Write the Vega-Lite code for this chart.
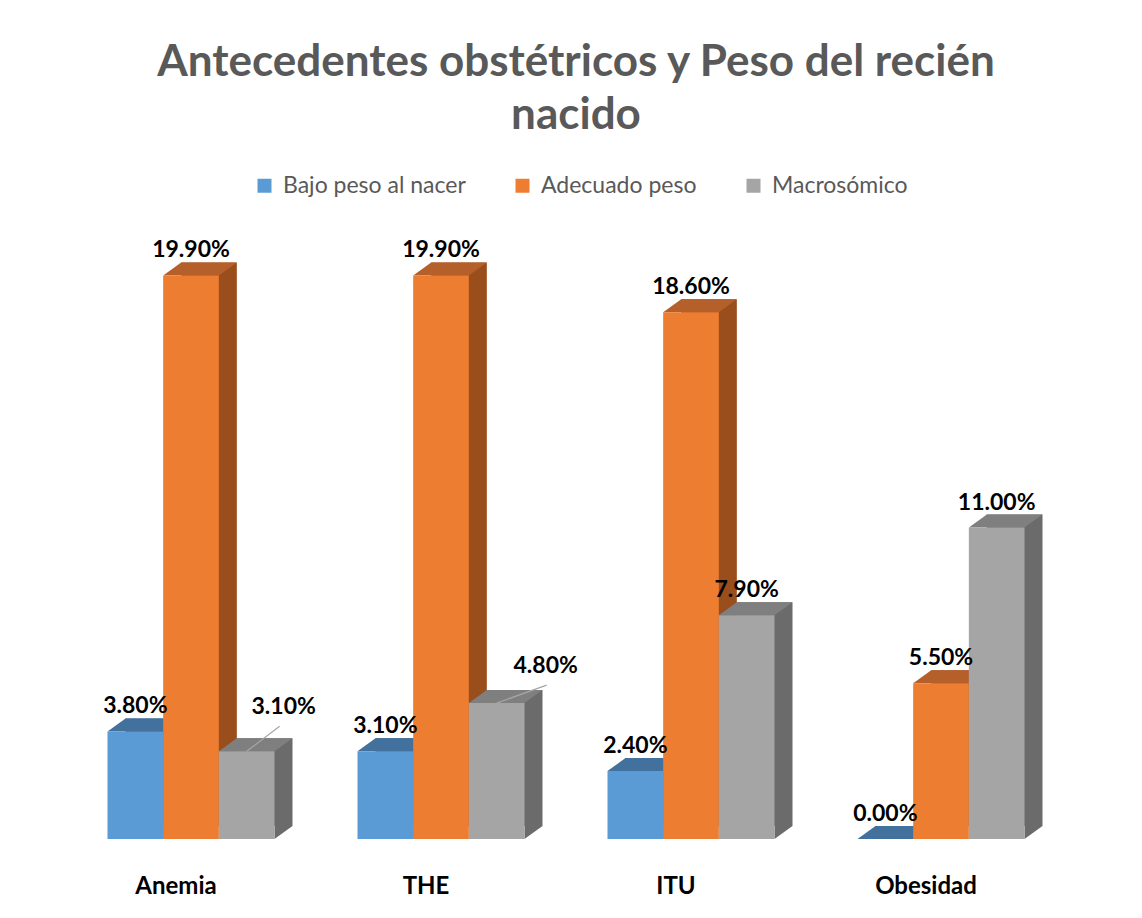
{
  "$schema": "https://vega.github.io/schema/vega-lite/v6.json",
  "width": 1000,
  "height": 623,
  "autosize": {"type": "none"},
  "padding": {"left": 66, "top": 216, "right": 76, "bottom": 79},
  "background": "white",
  "config": {"view": {"stroke": null}, "font": "Lato"},
  "title": {
    "text": ["Antecedentes obstétricos y Peso del recién", "nacido"],
    "fontSize": 44,
    "font": "Lato",
    "fontWeight": "bold",
    "color": "#595959",
    "anchor": "middle",
    "dx": 10,
    "offset": 36,
    "lineHeight": 53
  },
  "data": {
    "values": [
      {"cat": "Anemia", "serie": "Bajo peso al nacer", "val": 0.038},
      {"cat": "Anemia", "serie": "Adecuado peso", "val": 0.199},
      {"cat": "Anemia", "serie": "Macrosómico", "val": 0.031},
      {"cat": "THE", "serie": "Bajo peso al nacer", "val": 0.031},
      {"cat": "THE", "serie": "Adecuado peso", "val": 0.199},
      {"cat": "THE", "serie": "Macrosómico", "val": 0.048},
      {"cat": "ITU", "serie": "Bajo peso al nacer", "val": 0.024},
      {"cat": "ITU", "serie": "Adecuado peso", "val": 0.186},
      {"cat": "ITU", "serie": "Macrosómico", "val": 0.079},
      {"cat": "Obesidad", "serie": "Bajo peso al nacer", "val": 0.0},
      {"cat": "Obesidad", "serie": "Adecuado peso", "val": 0.055},
      {"cat": "Obesidad", "serie": "Macrosómico", "val": 0.11}
    ]
  },
  "encoding": {
    "x": {
      "field": "cat",
      "type": "nominal",
      "sort": ["Anemia", "THE", "ITU", "Obesidad"],
      "scale": {"paddingInner": 0.332, "paddingOuter": 0.166},
      "axis": {
        "title": null,
        "domain": false,
        "ticks": false,
        "grid": false,
        "labelAngle": 0,
        "labelFont": "Lato",
        "labelFontSize": 24,
        "labelFontWeight": "bold",
        "labelColor": "#000000",
        "labelPadding": 35,
        "labelOffset": -15
      }
    },
    "xOffset": {
      "field": "serie",
      "type": "nominal",
      "sort": ["Bajo peso al nacer", "Adecuado peso", "Macrosómico"],
      "scale": {"type": "band", "domain": ["Bajo peso al nacer", "Adecuado peso", "Macrosómico"], "paddingInner": 0, "paddingOuter": 0}
    },
    "y": {
      "field": "val",
      "type": "quantitative",
      "scale": {"domain": [0, 0.22]},
      "axis": null
    }
  },
  "resolve": {"scale": {"fill": "independent", "xOffset": "independent"}},
  "layer": [
    {
      "mark": {"type": "bar", "yOffset": -13, "y2Offset": -13},
      "encoding": {
        "xOffset": {
          "field": "serie",
          "type": "nominal",
          "sort": ["Bajo peso al nacer", "Adecuado peso", "Macrosómico"],
          "scale": {"type": "band", "domain": ["Bajo peso al nacer", "Adecuado peso", "Macrosómico"], "paddingInner": 0, "paddingOuter": 0, "range": [18, 185]}
        },
        "fill": {
          "field": "serie",
          "type": "nominal",
          "scale": {"domain": ["Bajo peso al nacer", "Adecuado peso", "Macrosómico"], "range": ["#365F86", "#9A4E1C", "#6B6B6B"]},
          "legend": null
        }
      }
    },
    {
      "mark": {"type": "point", "shape": "M 27.83 0 L 27.83 -13 L 45.83 -13 Z", "size": 4, "filled": true, "opacity": 1, "strokeWidth": 0},
      "encoding": {
        "y": {"datum": 0, "type": "quantitative"},
        "fill": {
          "field": "serie",
          "type": "nominal",
          "scale": {"domain": ["Bajo peso al nacer", "Adecuado peso", "Macrosómico"], "range": ["#365F86", "#9A4E1C", "#6B6B6B"]},
          "legend": null
        }
      }
    },
    {
      "mark": {"type": "point", "shape": "M -27.83 0 L -9.83 -13 L 45.83 -13 L 27.83 0 Z", "size": 4, "filled": true, "opacity": 1, "strokeWidth": 0},
      "encoding": {
        "fill": {
          "field": "serie",
          "type": "nominal",
          "scale": {"domain": ["Bajo peso al nacer", "Adecuado peso", "Macrosómico"], "range": ["#41719C", "#B5602A", "#7F7F7F"]},
          "legend": null
        }
      }
    },
    {
      "mark": {"type": "bar"},
      "encoding": {
        "color": {
          "field": "serie",
          "type": "nominal",
          "scale": {"domain": ["Bajo peso al nacer", "Adecuado peso", "Macrosómico"], "range": ["#5B9BD5", "#ED7D31", "#A5A5A5"]},
          "legend": {
            "orient": "none",
            "legendX": 187,
            "legendY": -42,
            "direction": "horizontal",
            "columns": 3,
            "title": null,
            "symbolType": "square",
            "symbolSize": 196,
            "symbolStrokeWidth": 0,
            "labelFont": "Lato",
            "labelFontSize": 23,
            "labelColor": "#595959",
            "labelLimit": 400,
            "labelOffset": 7,
            "columnPadding": 45
          }
        }
      }
    },
    {
      "transform": [{"filter": "!((datum.cat == 'Anemia' || datum.cat == 'THE') && datum.serie == 'Macrosómico')"}],
      "mark": {"type": "text", "font": "Lato", "fontSize": 23, "fontWeight": "bold", "color": "#000000", "baseline": "alphabetic", "dy": -18},
      "encoding": {"text": {"field": "val", "type": "quantitative", "format": ".2%"}}
    },
    {
      "transform": [{"filter": "datum.cat == 'Anemia' && datum.serie == 'Macrosómico'"}],
      "mark": {"type": "text", "font": "Lato", "fontSize": 23, "fontWeight": "bold", "color": "#000000", "baseline": "alphabetic", "dx": 37, "dy": -37},
      "encoding": {"text": {"field": "val", "type": "quantitative", "format": ".2%"}}
    },
    {
      "transform": [{"filter": "datum.cat == 'THE' && datum.serie == 'Macrosómico'"}],
      "mark": {"type": "text", "font": "Lato", "fontSize": 23, "fontWeight": "bold", "color": "#000000", "baseline": "alphabetic", "dx": 49, "dy": -30},
      "encoding": {"text": {"field": "val", "type": "quantitative", "format": ".2%"}}
    },
    {
      "transform": [{"filter": "datum.cat == 'Anemia' && datum.serie == 'Macrosómico'"}],
      "mark": {"type": "point", "shape": "M 0 0 L 33 -25", "size": 4, "filled": false, "opacity": 1, "stroke": "#A6A6A6", "strokeWidth": 1.2}
    },
    {
      "transform": [{"filter": "datum.cat == 'THE' && datum.serie == 'Macrosómico'"}],
      "mark": {"type": "point", "shape": "M 0 0 L 50 -18", "size": 4, "filled": false, "opacity": 1, "stroke": "#A6A6A6", "strokeWidth": 1.2}
    }
  ]
}
